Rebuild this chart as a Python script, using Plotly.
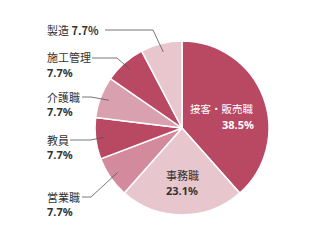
import math
import plotly.graph_objects as go

# ---- data ----
categories = ["接客・販売職", "事務職", "営業職", "教員", "介護職", "施工管理", "製造"]
values = [5, 3, 1, 1, 1, 1, 1]
pct_labels = ["38.5%", "23.1%", "7.7%", "7.7%", "7.7%", "7.7%", "7.7%"]
colors = ["#B94862", "#E8C6CE", "#D48A9D", "#B94862", "#D9A0AF", "#B94862", "#E8C6CE"]

W, H = 335, 250
CX, CY, R = 182, 128, 87  # pie centre/radius in px (layout)

fig = go.Figure(go.Pie(
    labels=categories, values=values, sort=False, direction="clockwise",
    rotation=0, marker=dict(colors=colors, line=dict(color="white", width=1.5)),
    textinfo="none", hoverinfo="label+percent", showlegend=False,
    domain=dict(x=[(CX - R) / W, (CX + R) / W], y=[(H - CY - R) / H, (H - CY + R) / H]),
))

def px(x, y):
    return x / W, 1 - y / H

font = "Noto Sans CJK JP, sans-serif"
numfont = "Noto Sans, sans-serif"
txt = "#333333"
ann = []
shapes = []

total = sum(values)
cum = 0
mids = []
for v in values:
    mids.append((cum + v / 2) / total * 2 * math.pi)
    cum += v

def add_text(x, y, text, anchor, col, size, fam):
    xa, ya = px(x, y)
    ann.append(dict(x=xa, y=ya, xref="paper", yref="paper", text=text, showarrow=False,
                    xanchor=anchor, yanchor="middle", align=anchor, borderpad=0,
                    font=dict(family=fam, size=size, color=col)))

# inside labels (layout positions): x, name y, pct y, anchor, colour, size
inside = {0: (255, 109, 124, "right", "white", 10.5), 1: (165, 175, 190, "left", txt, 11)}
for i, (x, y1, y2, al, col, fs) in inside.items():
    add_text(x, y1, categories[i], al, col, fs, font)
    add_text(x, y2, "<b>" + pct_labels[i] + "</b>", al, col, 11, numfont)

# outside labels: (text x, name y, two-line?, line start x, knee x)
outside = {
    6: (46, 30, False, 105, 153),
    5: (46, 58, True, 92, 117),
    4: (46, 97, True, 82, 91),
    3: (46, 140, True, 70, 90),
    2: (46, 197, True, 82, 91),
}
for i, (tx, ny, two, lx, kx) in outside.items():
    if two:
        add_text(tx, ny - 0.5, categories[i], "left", txt, 11, font)
        add_text(tx, ny + 14.5, "<b>" + pct_labels[i] + "</b>", "left", txt, 11, numfont)
    else:
        add_text(tx, ny, categories[i] + " <b>" + pct_labels[i] + "</b>", "left", txt, 11, font)
    ex = CX + 0.9 * R * math.sin(mids[i])
    ey = CY - 0.9 * R * math.cos(mids[i])
    p0, p1, p2 = px(lx, ny), px(kx, ny), px(ex, ey)
    shapes.append(dict(type="path", xref="paper", yref="paper",
                       path=f"M{p0[0]},{p0[1]} L{p1[0]},{p1[1]} L{p2[0]},{p2[1]}",
                       line=dict(color="#555555", width=0.8)))

fig.update_layout(width=W, height=H, margin=dict(l=0, r=0, t=0, b=0),
                  paper_bgcolor="white", plot_bgcolor="white",
                  annotations=ann, shapes=shapes)
fig.write_html("out.html")
